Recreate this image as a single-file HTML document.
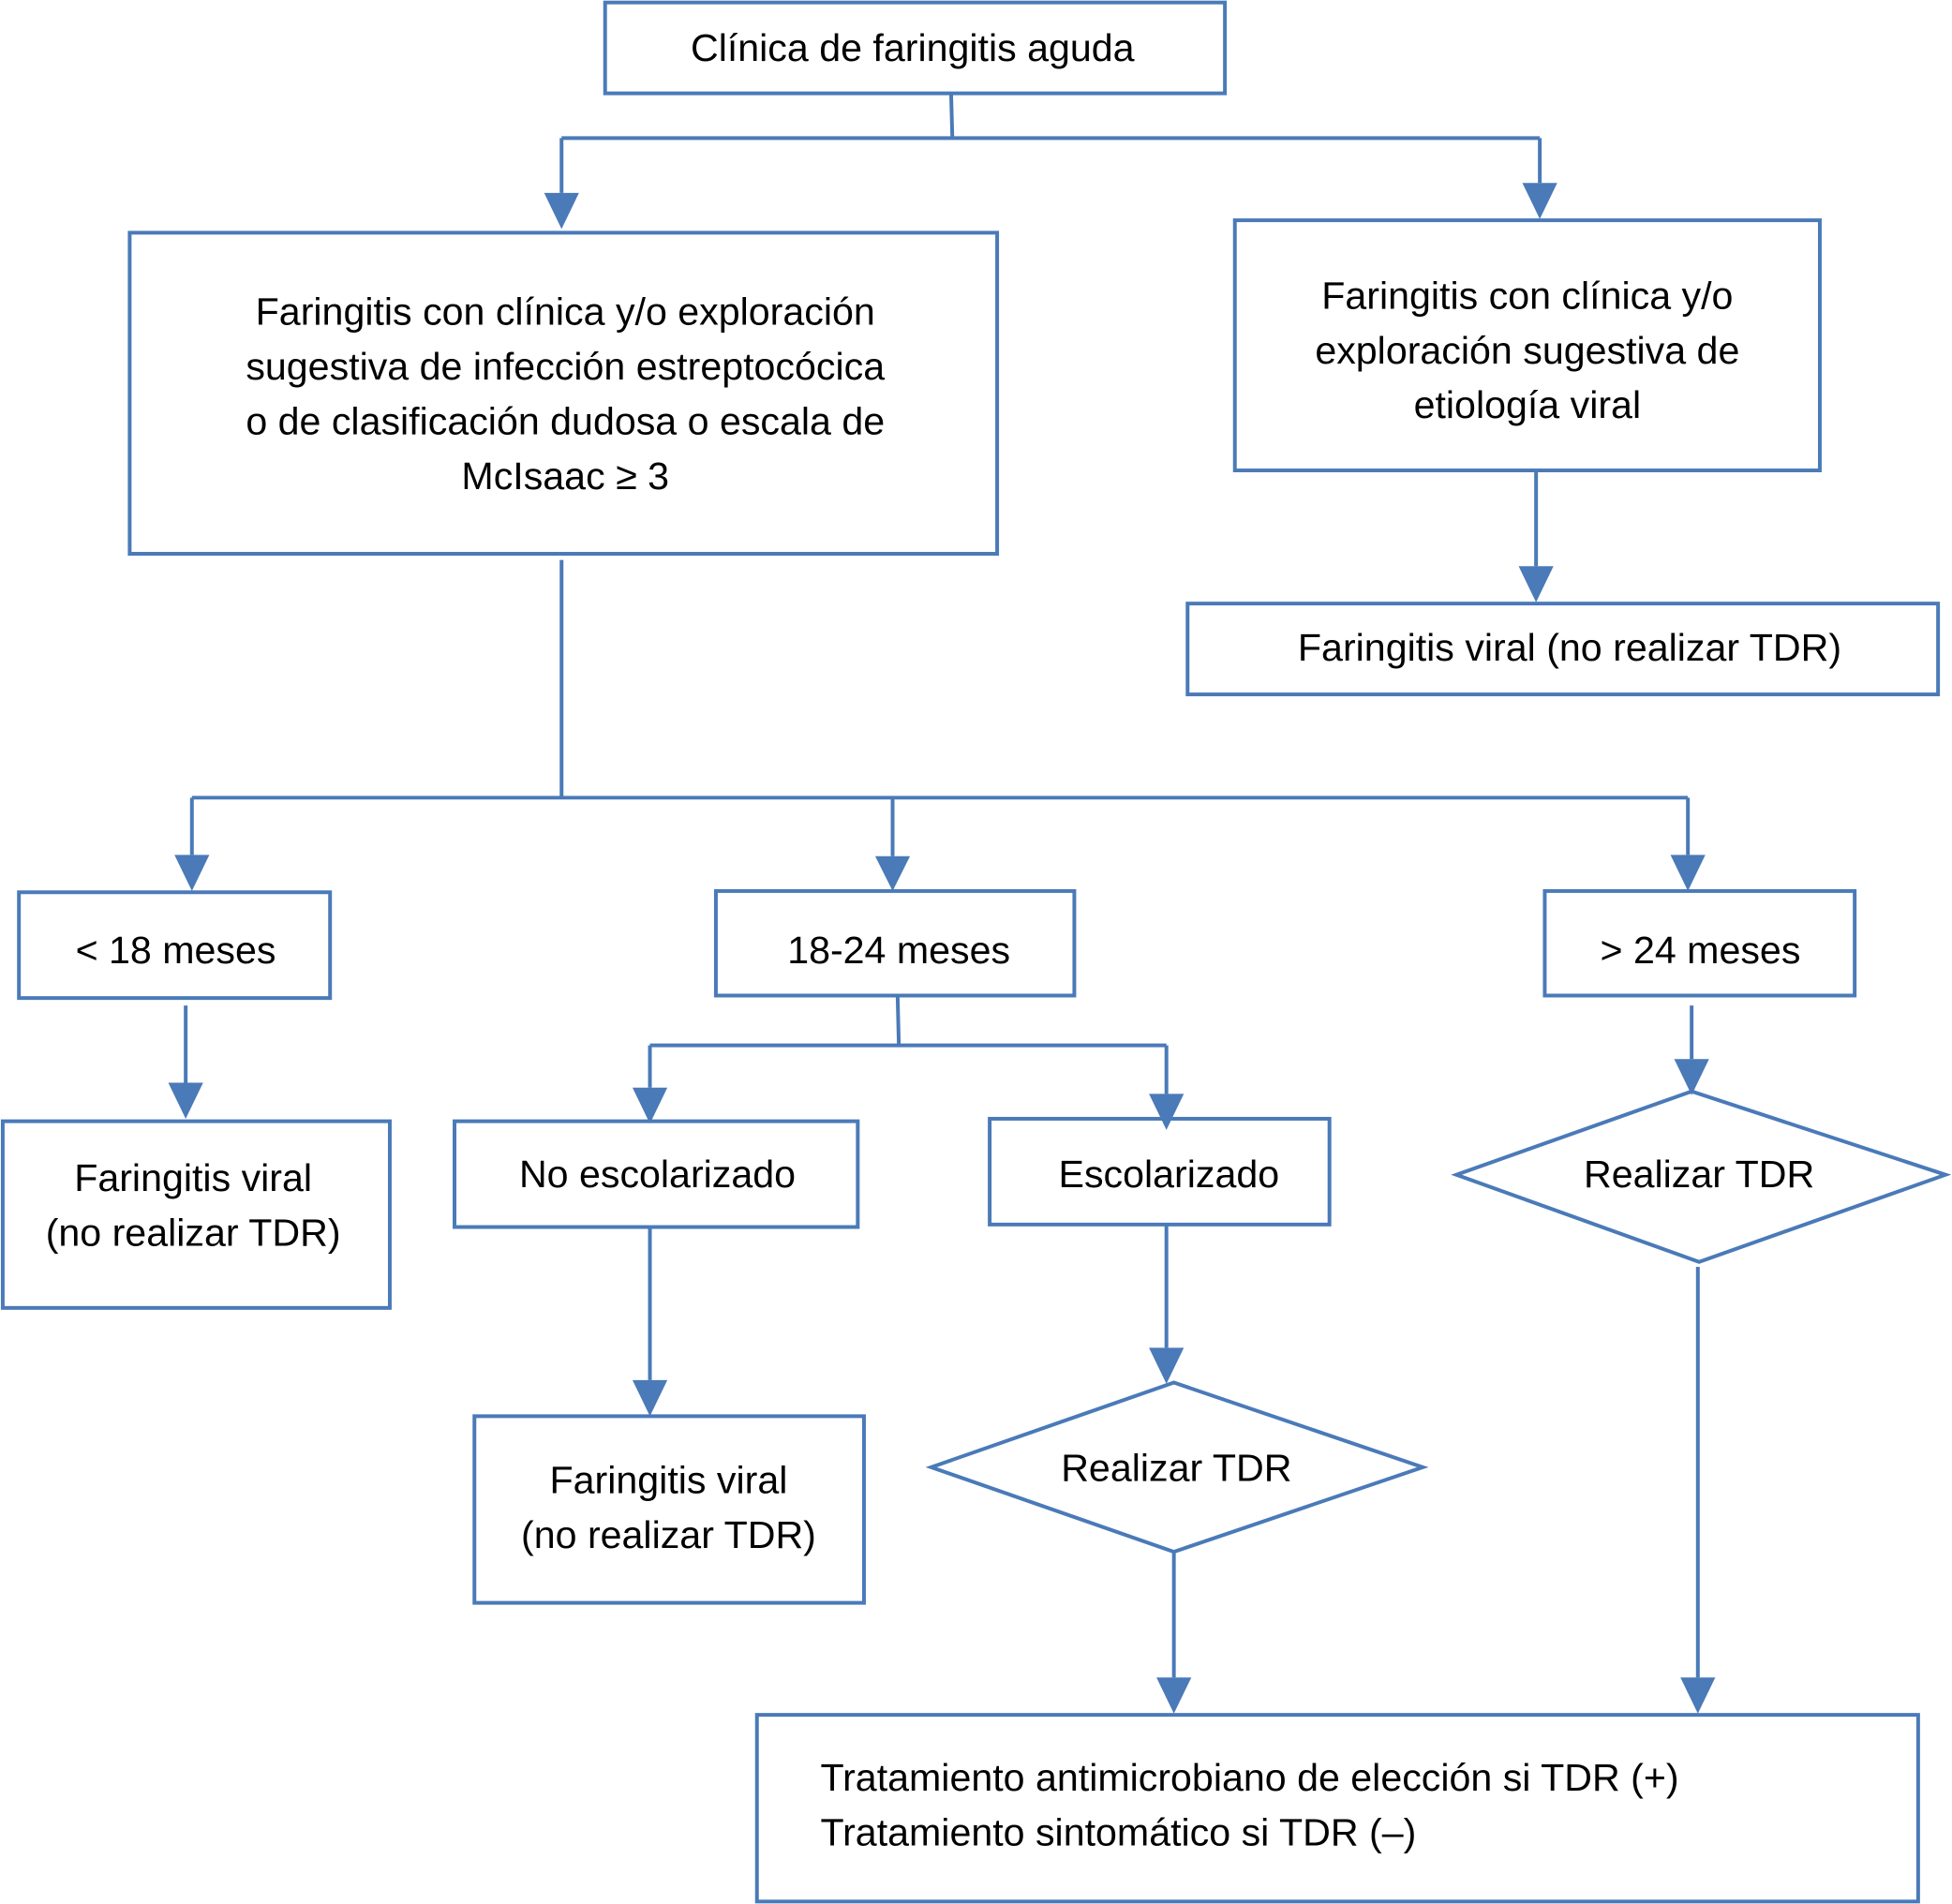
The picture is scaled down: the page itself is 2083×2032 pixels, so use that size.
<!DOCTYPE html>
<html><head><meta charset="utf-8"><style>html,body{margin:0;padding:0;background:#fff}svg{display:block}</style></head>
<body>
<svg width="2083" height="2032" viewBox="0 0 1568 1530" xmlns="http://www.w3.org/2000/svg">
<defs>
<marker id="a" markerWidth="10" markerHeight="10" refX="9" refY="5" orient="auto" markerUnits="userSpaceOnUse" viewBox="0 0 10 10"><path d="M0,0 L10,5 L0,10 z" fill="#4a7ab8"/></marker>
</defs>
<g fill="none" stroke="#4a7ab8" stroke-width="3">
<rect x="486" y="2" width="498" height="73"/>
<rect x="104" y="187" width="697" height="258"/>
<rect x="992" y="177" width="470" height="201"/>
<rect x="954" y="485" width="603" height="73"/>
<rect x="15" y="717" width="250" height="85"/>
<rect x="575" y="716" width="288" height="84"/>
<rect x="1241" y="716" width="249" height="84"/>
<rect x="2" y="901" width="311" height="150"/>
<rect x="365" y="901" width="324" height="85"/>
<rect x="795" y="899" width="273" height="85"/>
<rect x="381" y="1138" width="313" height="150"/>
<rect x="608" y="1378" width="933" height="150"/>
<polygon points="748,1179 943,1111 1143,1179 943,1247"/>
<polygon points="1170,944 1359,877 1563,944 1365,1014"/>
<path d="M764,75 L765,111 M451,111 L1237,111 M451,111 V155 M1237,111 V147"/>
<path d="M1234,378 V455"/>
<path d="M451,450 V641 M154,641 H1356 M154,641 V687 M717,641 V688 M1356,641 V687"/>
<path d="M149,808 V870"/>
<path d="M721,800 L722,840 M522,840 H937 M522,840 V874 M937,840 V879"/>
<path d="M522,986 V1109 M937,984 V1083 M943,1247 V1348 M1359,808 V851 M1364,1018 V1348"/>
</g>
<g fill="#4a7ab8">
<path d="M437,155 L465,155 L451,184 z"/>
<path d="M1223,147 L1251,147 L1237,176 z"/>
<path d="M1220,455 L1248,455 L1234,484 z"/>
<path d="M140,687 L168,687 L154,716 z"/>
<path d="M703,688 L731,688 L717,716 z"/>
<path d="M1342,687 L1370,687 L1356,716 z"/>
<path d="M135,870 L163,870 L149,899 z"/>
<path d="M508,874 L536,874 L522,903 z"/>
<path d="M923,879 L951,879 L937,908 z"/>
<path d="M508,1109 L536,1109 L522,1138 z"/>
<path d="M923,1083 L951,1083 L937,1112 z"/>
<path d="M929,1348 L957,1348 L943,1377 z"/>
<path d="M1345,851 L1373,851 L1359,880 z"/>
<path d="M1350,1348 L1378,1348 L1364,1377 z"/>
</g>
<g font-family="Liberation Sans, Arial, sans-serif" font-size="31" fill="#000" text-anchor="middle">
<text x="733" y="49">Clínica de faringitis aguda</text>
<text x="454" y="261">Faringitis con clínica y/o exploración</text>
<text x="454" y="305">sugestiva de infección estreptocócica</text>
<text x="454" y="349">o de clasificación dudosa o escala de</text>
<text x="454" y="393">McIsaac ≥ 3</text>
<text x="1227" y="248">Faringitis con clínica y/o</text>
<text x="1227" y="292">exploración sugestiva de</text>
<text x="1227" y="336">etiología viral</text>
<text x="1261" y="531">Faringitis viral (no realizar TDR)</text>
<text x="141" y="774">&lt; 18 meses</text>
<text x="722" y="774">18-24 meses</text>
<text x="1366" y="774">&gt; 24 meses</text>
<text x="155" y="957">Faringitis viral</text>
<text x="155" y="1001">(no realizar TDR)</text>
<text x="528" y="954">No escolarizado</text>
<text x="939" y="954">Escolarizado</text>
<text x="537" y="1200">Faringitis viral</text>
<text x="537" y="1244">(no realizar TDR)</text>
<text x="945" y="1190">Realizar TDR</text>
<text x="1365" y="954">Realizar TDR</text>
<text x="659" y="1439" text-anchor="start">Tratamiento antimicrobiano de elección si TDR (+)</text>
<text x="659" y="1483" text-anchor="start">Tratamiento sintomático si TDR (–)</text>
</g>
</svg>
</body></html>
